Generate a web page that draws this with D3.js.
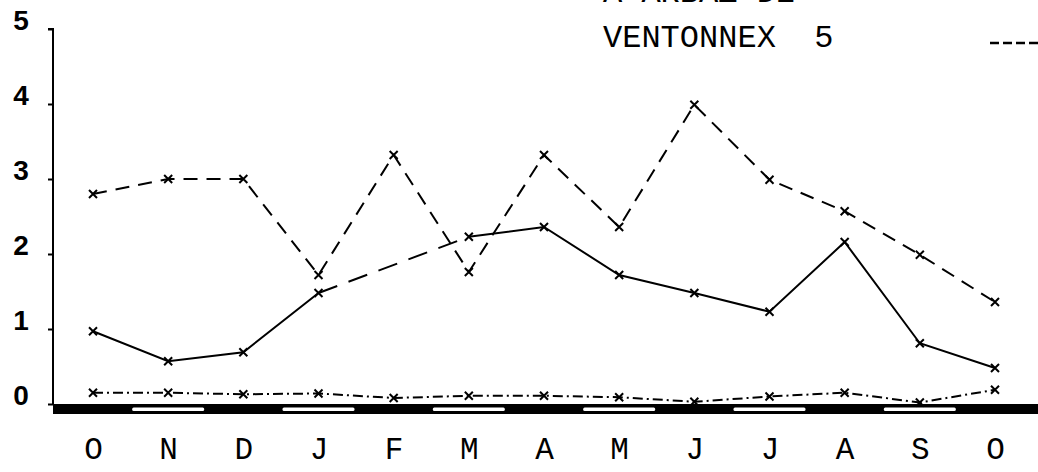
<!DOCTYPE html>
<html>
<head>
<meta charset="utf-8">
<script src="https://cdn.jsdelivr.net/npm/d3@7"></script>
<style>
  html, body { margin: 0; padding: 0; background: #fff; }
  svg { display: block; }
</style>
</head>
<body>
<svg id="chart" width="1038" height="472"></svg>
<script>
// Months of the hydrological year, October to October
const months = ["O", "N", "D", "J", "F", "M", "A", "M", "J", "J", "A", "S", "O"];
const yTicks = [0, 1, 2, 3, 4, 5];

// Ventonnex 5 (dashed)
const ventonnex5 = [2.8, 3.0, 3.0, 1.72, 3.32, 1.76, 3.32, 2.36, 3.99, 2.99, 2.57, 1.99, 1.36];
// Second station (solid); February not measured
const stationB = [0.97, 0.57, 0.69, 1.48, null, 2.23, 2.36, 1.72, 1.48, 1.23, 2.16, 0.81, 0.48];
// Third station (dash-dot), close to zero all year
const stationC = [0.15, 0.15, 0.13, 0.14, 0.08, 0.11, 0.11, 0.09, 0.03, 0.1, 0.15, 0.02, 0.19];

const legendTitle = "A ARBAZ DE";
const legendName = "VENTONNEX  5";

const svg = d3.select("#chart");
const idx = months.map((_, i) => i);

const x = d3.scalePoint().domain(idx).range([93, 995]);
const y = d3.scaleLinear().domain([0, 5]).range([404, 29]);

const ink = "#000";
const typewriter = "'Liberation Mono', 'DejaVu Sans Mono', monospace";

// Y axis
const yAxis = d3.axisLeft(y).tickValues(yTicks).tickSize(5).tickPadding(0).tickFormat(d3.format("d"));
const gy = svg.append("g").attr("transform", "translate(53,0)").call(yAxis);
gy.attr("font-size", null).attr("font-family", null);
gy.select(".domain").attr("stroke", ink).attr("stroke-width", 2).attr("d", `M-5,${y(5)}H0V${y(0)}`);
gy.selectAll(".tick line").attr("stroke", ink).attr("stroke-width", 2);
gy.selectAll(".tick text")
  .attr("x", -32)
  .attr("dy", "0.02em")
  .attr("text-anchor", "middle")
  .attr("fill", ink)
  .style("font-family", "'Liberation Sans', Arial, sans-serif")
  .style("font-size", "28px")
  .style("font-weight", "bold");

// Thick base bar with white slots under every other month
svg.append("rect")
  .attr("x", 53).attr("y", y(0)).attr("width", 1038 - 53).attr("height", 10)
  .attr("fill", ink);
svg.append("g").selectAll("rect")
  .data(idx.filter(i => i % 2 === 1))
  .join("rect")
  .attr("x", i => x(i) - 36)
  .attr("y", y(0) + 3.5)
  .attr("width", 72)
  .attr("height", 3.5)
  .attr("rx", 1.5)
  .attr("fill", "#fff");

// X axis month labels
const xAxis = d3.axisBottom(x).tickSize(0).tickPadding(0).tickFormat(i => months[i]);
const gx = svg.append("g").attr("transform", "translate(0,448)").call(xAxis);
gx.attr("font-size", null).attr("font-family", null);
gx.select(".domain").remove();
gx.selectAll(".tick text")
  .attr("y", 0)
  .attr("dy", "0.36em")
  .attr("fill", ink)
  .style("font-family", typewriter)
  .style("font-size", "31px");

// Series lines
const line = d3.line()
  .defined(d => d != null)
  .x((d, i) => x(i))
  .y(d => y(d));

function drawSeries(values, dash) {
  svg.append("path")
    .datum(values)
    .attr("fill", "none")
    .attr("stroke", ink)
    .attr("stroke-width", 2)
    .attr("stroke-dasharray", dash)
    .attr("d", line);
}

drawSeries(ventonnex5, "14,9");
drawSeries(stationC, "10,4,2,4");
drawSeries(stationB, null);

// Bridge across the missing month with a long dash
const known = stationB.map((d, i) => ({ d, i })).filter(p => p.d != null);
const gapEnds = known.filter((p, k) => {
  const prev = known[k - 1], next = known[k + 1];
  return (next && next.i - p.i > 1) || (prev && p.i - prev.i > 1);
});
svg.append("path")
  .datum(gapEnds)
  .attr("fill", "none")
  .attr("stroke", ink)
  .attr("stroke-width", 2)
  .attr("stroke-dasharray", "20,12")
  .attr("d", d3.line().x(p => x(p.i)).y(p => y(p.d)));

// Cross markers
function drawMarkers(values) {
  svg.append("g").selectAll("path")
    .data(values.map((d, i) => ({ d, i })).filter(p => p.d != null))
    .join("path")
    .attr("d", p => {
      const cx = x(p.i), cy = y(p.d), s = 4;
      return `M${cx - s},${cy - s}L${cx + s},${cy + s}M${cx - s},${cy + s}L${cx + s},${cy - s}`;
    })
    .attr("stroke", ink)
    .attr("stroke-width", 2);
}
drawMarkers(ventonnex5);
drawMarkers(stationB);
drawMarkers(stationC);

// Legend
svg.append("text")
  .attr("x", 603).attr("y", 2)
  .attr("fill", ink)
  .style("font-family", typewriter)
  .style("font-size", "32px")
  .style("white-space", "pre")
  .text(legendTitle);
svg.append("text")
  .attr("x", 603).attr("y", 47)
  .attr("fill", ink)
  .style("font-family", typewriter)
  .style("font-size", "32px")
  .style("white-space", "pre")
  .text(legendName);
svg.append("line")
  .attr("x1", 990).attr("x2", 1038)
  .attr("y1", 43).attr("y2", 43)
  .attr("stroke", ink)
  .attr("stroke-width", 2.5)
  .attr("stroke-dasharray", "9,4");
</script>
</body>
</html>
